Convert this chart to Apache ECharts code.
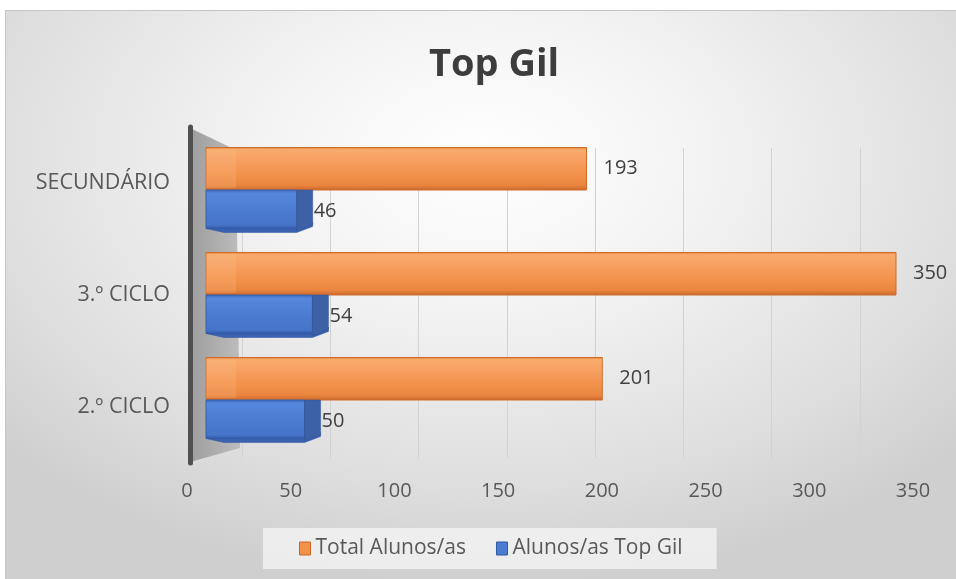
<!DOCTYPE html>
<html>
<head>
<meta charset="utf-8">
<script src="https://cdn.jsdelivr.net/npm/echarts@6/dist/echarts.min.js"></script>
<style>
  html, body { margin:0; padding:0; background:#ffffff; }
  #bg { position:absolute; left:5px; top:10px; width:951px; height:569px;
        border-left:1px solid #c6c6c6; border-top:1px solid #c6c6c6;
        background: radial-gradient(ellipse 68% 75% at 50% 26%, #ffffff 0%, #f3f3f3 35%, #dfdfdf 75%, #cfcfcf 100%); }
  #chart { position:absolute; left:0; top:0; width:956px; height:579px; }
</style>
</head>
<body>
<div id="bg"></div>
<div id="chart"></div>
<script>
// ---- data ----
const categories = ['2.º CICLO', '3.º CICLO', 'SECUNDÁRIO'];
const totalAlunos = [201, 350, 193];
const alunosTopGil = [50, 54, 46];
const seriesNames = ['Total Alunos/as', 'Alunos/as Top Gil'];
const axisMin = 0, axisMax = 350, axisStep = 50;

const FONT = '"Open Sans", "Noto Sans", sans-serif';
const chart = echarts.init(document.getElementById('chart'), null, { renderer: 'canvas' });

const orangeFront = new echarts.graphic.LinearGradient(0, 0, 0, 1, [
  { offset: 0, color: '#dc7a35' },
  { offset: 0.06, color: '#f9ab6c' },
  { offset: 0.3, color: '#f7a062' },
  { offset: 0.65, color: '#f2914a' },
  { offset: 0.88, color: '#ea853f' },
  { offset: 1, color: '#c9662a' }
]);
const blueFront = new echarts.graphic.LinearGradient(0, 0, 0, 1, [
  { offset: 0, color: '#3d68b8' },
  { offset: 0.1, color: '#5587dc' },
  { offset: 0.5, color: '#4a7cd2' },
  { offset: 0.9, color: '#4574c8' },
  { offset: 1, color: '#2f57a3' }
]);

function makeRender(kind) {
  return function (params, api) {
    const cat = api.value(0);
    const val = api.value(1);
    const p0 = api.coord([0, cat]);
    const p1 = api.coord([val, cat]);
    const band = api.size([0, 1])[1];
    const h = band * 0.405;
    const x0 = p0[0], x1 = p1[0];
    const yTop = kind === 'orange' ? p0[1] - h : p0[1];
    const yBot = yTop + h;
    const children = [];
    if (kind === 'orange') {
      children.push({
        type: 'rect', shape: { x: x0, y: yTop, width: x1 - x0, height: h },
        style: { fill: orangeFront, stroke: '#cf6c28', lineWidth: 1 }
      });
      children.push({
        type: 'rect', shape: { x: x0, y: yTop + 2, width: 30, height: h - 4 },
        style: { fill: 'rgba(255,200,150,0.2)' }
      });
      children.push({
        type: 'text',
        style: { text: String(val), x: x1 + 17, y: (yTop + yBot) / 2, verticalAlign: 'middle', align: 'left',
                 font: '20px ' + FONT, fill: '#404040' }
      });
    } else {
      const side = 16;
      children.push({
        type: 'rect', shape: { x: x0, y: yTop, width: x1 - x0, height: h - 4 },
        style: { fill: blueFront, stroke: '#3560ab', lineWidth: 1 }
      });
      children.push({
        type: 'polygon', shape: { points: [[x0, yBot - 4], [x1, yBot - 4], [x1 + side, yBot - 10], [x1 + side, yBot - 6], [x1, yBot], [x0 + 18, yBot]] },
        style: { fill: '#3a62b0', stroke: '#2f55a0', lineWidth: 0.5 }
      });
      children.push({
        type: 'polygon', shape: { points: [[x1, yTop], [x1 + side, yTop], [x1 + side, yBot - 8], [x1, yBot - 2]] },
        style: { fill: '#3e61a6', stroke: '#2f529a', lineWidth: 0.5 }
      });
      children.push({
        type: 'text',
        style: { text: String(val), x: x1 + side + 1, y: (yTop + yBot) / 2, verticalAlign: 'middle', align: 'left',
                 font: '20px ' + FONT, fill: '#404040' }
      });
    }
    return { type: 'group', children: children };
  };
}

const option = {
  backgroundColor: 'transparent',
  animation: false,
  title: {
    text: 'Top Gil', left: 424, top: 41,
    textStyle: { fontFamily: FONT, fontSize: 38, fontWeight: 'bold', color: '#3d3d3d' }
  },
  legend: {
    left: 263, top: 528,
    padding: [10, 34, 10, 36],
    backgroundColor: 'rgba(246,246,246,0.75)',
    itemGap: 30, itemWidth: 11, itemHeight: 13,
    textStyle: { fontFamily: FONT, fontSize: 21, color: '#595959' },
    data: [
      { name: seriesNames[0], icon: 'rect', itemStyle: { color: '#f29149', borderColor: '#c9662a', borderWidth: 1 } },
      { name: seriesNames[1], icon: 'rect', itemStyle: { color: '#4a7cd2', borderColor: '#2f57a3', borderWidth: 1 } }
    ]
  },
  graphic: [
    {
      type: 'polygon', z: 1,
      shape: { points: [[190, 128], [236, 150], [240, 448], [190, 462]] },
      style: {
        fill: new echarts.graphic.LinearGradient(0, 0, 1, 0, [
          { offset: 0, color: '#9d9d9d' }, { offset: 1, color: '#bdbdbd' }
        ])
      }
    }
  ],
  grid: [
    { left: 187, right: 43, top: 127, bottom: 116, containLabel: false },
    { left: 242, right: 96, top: 148, bottom: 121, containLabel: false },
    { left: 206, right: 60, top: 137.5, bottom: 126.5, containLabel: false }
  ],
  xAxis: [
    { gridIndex: 0, type: 'value', min: axisMin, max: axisMax, interval: axisStep,
      axisLine: { show: false }, axisTick: { show: false }, splitLine: { show: false },
      axisLabel: { margin: 18, color: '#595959', fontFamily: FONT, fontSize: 20 } },
    { gridIndex: 1, type: 'value', min: axisMin, max: axisMax, interval: axisStep,
      axisLine: { show: false }, axisTick: { show: false }, axisLabel: { show: false },
      splitLine: { show: true, lineStyle: { color: '#d2d2d2', width: 1 } } },
    { gridIndex: 2, type: 'value', min: axisMin, max: axisMax, show: false }
  ],
  yAxis: [
    { gridIndex: 0, type: 'category', data: categories, offset: -3,
      axisLine: { show: true, lineStyle: { color: '#505050', width: 5 } },
      axisTick: { show: false }, splitLine: { show: false },
      axisLabel: { margin: 20, color: '#595959', fontFamily: FONT, fontSize: 21.5 }, z: 5 },
    { gridIndex: 1, type: 'category', data: categories, show: false },
    { gridIndex: 2, type: 'category', data: categories, show: false }
  ],
  series: [
    {
      name: seriesNames[0], type: 'custom', xAxisIndex: 2, yAxisIndex: 2, z: 5,
      itemStyle: { color: '#f29149' },
      encode: { y: 0, x: 1 },
      data: totalAlunos.map((v, i) => [i, v]),
      renderItem: makeRender('orange')
    },
    {
      name: seriesNames[1], type: 'custom', xAxisIndex: 2, yAxisIndex: 2, z: 5,
      itemStyle: { color: '#4a7cd2' },
      encode: { y: 0, x: 1 },
      data: alunosTopGil.map((v, i) => [i, v]),
      renderItem: makeRender('blue')
    }
  ]
};
chart.setOption(option);
</script>
</body>
</html>
